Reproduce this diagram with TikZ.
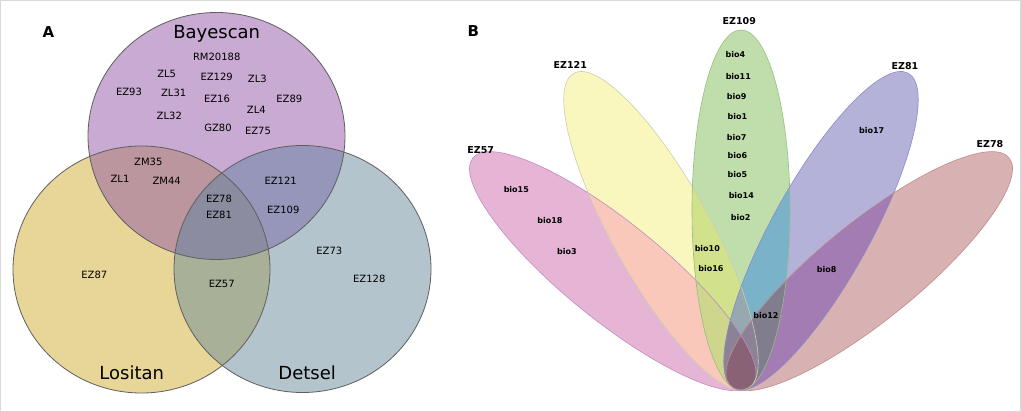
\documentclass[tikz,border=0pt]{standalone}
\usepackage{fontspec}
\setmainfont{DejaVu Sans}
% Panel A colours
\definecolor{aB}{RGB}{200,170,210}
\definecolor{aL}{RGB}{232,214,152}
\definecolor{aD}{RGB}{180,196,204}
\definecolor{aBL}{RGB}{188,150,158}
\definecolor{aBD}{RGB}{150,150,186}
\definecolor{aLD}{RGB}{168,176,152}
\definecolor{aBLD}{RGB}{140,140,160}
\definecolor{aEdge}{RGB}{95,95,95}
% Panel B colours
\definecolor{b1}{RGB}{230,180,212}
\definecolor{b2}{RGB}{249,247,190}
\definecolor{b3}{RGB}{192,222,172}
\definecolor{b4}{RGB}{180,178,216}
\definecolor{b5}{RGB}{216,178,178}
\definecolor{b12}{RGB}{249,200,186}
\definecolor{b23}{RGB}{210,226,140}
\definecolor{b34}{RGB}{122,178,202}
\definecolor{b45}{RGB}{162,124,178}
\definecolor{b13}{RGB}{190,180,170}
\definecolor{b14}{RGB}{175,150,200}
\definecolor{b24}{RGB}{165,188,190}
\definecolor{b25}{RGB}{215,180,160}
\definecolor{b35}{RGB}{150,150,150}
\definecolor{b123}{RGB}{205,214,140}
\definecolor{b345}{RGB}{128,126,142}
\definecolor{b234}{RGB}{150,168,176}
\definecolor{bTri}{RGB}{150,145,165}
\definecolor{bQuad}{RGB}{140,130,150}
\definecolor{bBulb}{RGB}{138,98,118}
\definecolor{e1}{RGB}{190,140,195}
\definecolor{e2}{RGB}{205,205,175}
\definecolor{e3}{RGB}{150,190,130}
\definecolor{e4}{RGB}{140,140,195}
\definecolor{e5}{RGB}{190,140,140}
\newcommand\PetClip[1]{\clip[p#1] (165,0) ellipse (180pt and 49pt);}
\newcommand\PetFill[2]{\fill[p#1,fill=#2] (165,0) ellipse (180pt and 49pt);}
\newcommand\PairFill[3]{\begin{scope}\PetClip{#1}\PetFill{#2}{#3}\end{scope}}
\newcommand\TriFill[4]{\begin{scope}\PetClip{#1}\PetClip{#2}\PetFill{#3}{#4}\end{scope}}
\newcommand\QuadFill[5]{\begin{scope}\PetClip{#1}\PetClip{#2}\PetClip{#3}\PetFill{#4}{#5}\end{scope}}
\begin{document}
\begin{tikzpicture}[x=1pt,y=-1pt,
  lbl/.style={font=\fontsize{10}{12}\selectfont, inner sep=0pt},
  settitle/.style={font=\fontsize{18}{20}\selectfont, inner sep=0pt, anchor=base},
  panel/.style={font=\fontsize{15}{17}\selectfont\bfseries, inner sep=0pt, anchor=base},
  blbl/.style={font=\fontsize{8}{10}\selectfont\bfseries, inner sep=0pt},
  setname/.style={font=\fontsize{9.5}{11}\selectfont\bfseries, inner sep=0pt},
  aout/.style={draw=aEdge, line width=0.8pt},
  p1/.style={shift={(741,375)},rotate=141},
  p2/.style={shift={(741,375)},rotate=119},
  p3/.style={shift={(741,375)},rotate=90},
  p4/.style={shift={(741,375)},rotate=61},
  p5/.style={shift={(741,375)},rotate=39},
]
\useasboundingbox (0,0) rectangle (1021,412);
\fill[white] (0,0) rectangle (1021,412);
\draw[black!15, line width=1pt] (0.5,0.5) rectangle (1020.5,411.5);

% ---------------- Panel A ----------------
\fill[aL] (141.5,269.5) ellipse (128.5pt and 123.5pt);
\fill[aD] (302.5,269) ellipse (128.5pt and 123.5pt);
\fill[aB] (216.5,136) ellipse (128.5pt and 123.5pt);
\begin{scope}
  \clip (216.5,136) ellipse (128.5pt and 123.5pt);
  \fill[aBL] (141.5,269.5) ellipse (128.5pt and 123.5pt);
  \fill[aBD] (302.5,269) ellipse (128.5pt and 123.5pt);
\end{scope}
\begin{scope}
  \clip (141.5,269.5) ellipse (128.5pt and 123.5pt);
  \fill[aLD] (302.5,269) ellipse (128.5pt and 123.5pt);
\end{scope}
\begin{scope}
  \clip (216.5,136) ellipse (128.5pt and 123.5pt);
  \clip (141.5,269.5) ellipse (128.5pt and 123.5pt);
  \fill[aBLD] (302.5,269) ellipse (128.5pt and 123.5pt);
\end{scope}
\draw[aout] (141.5,269.5) ellipse (128.5pt and 123.5pt);
\draw[aout] (302.5,269) ellipse (128.5pt and 123.5pt);
\draw[aout] (216.5,136) ellipse (128.5pt and 123.5pt);

\node[panel] (labA) at (48.5,37.3) {A};
\node[settitle] (tBay) at (216.7,39) {Bayescan};
\node[settitle] (tLos) at (131.7,379) {Lositan};
\node[settitle] (tDet) at (307.2,379) {Detsel};

\node[lbl] (aRM20188) at (216.7,56.7) {RM20188};
\node[lbl] (aZL5) at (166.7,74) {ZL5};
\node[lbl] (aEZ129) at (216.7,76.7) {EZ129};
\node[lbl] (aZL3) at (257.3,79.3) {ZL3};
\node[lbl] (aEZ93) at (129,92.3) {EZ93};
\node[lbl] (aZL31) at (173.7,93.3) {ZL31};
\node[lbl] (aEZ16) at (217,98.7) {EZ16};
\node[lbl] (aEZ89) at (289.3,99) {EZ89};
\node[lbl] (aZL4) at (256.3,110) {ZL4};
\node[lbl] (aZL32) at (169.3,116.3) {ZL32};
\node[lbl] (aGZ80) at (218,127.7) {GZ80};
\node[lbl] (aEZ75) at (258,130.7) {EZ75};
\node[lbl] (aZM35) at (148.3,162.3) {ZM35};
\node[lbl] (aZL1) at (120,179) {ZL1};
\node[lbl] (aZM44) at (166.7,180.7) {ZM44};
\node[lbl] (aEZ78) at (219,198.7) {EZ78};
\node[lbl] (aEZ81) at (219,214.7) {EZ81};
\node[lbl] (aEZ121) at (280.7,181) {EZ121};
\node[lbl] (aEZ109) at (283.3,209.7) {EZ109};
\node[lbl] (aEZ73) at (329.3,250.7) {EZ73};
\node[lbl] (aEZ128) at (369.3,279.3) {EZ128};
\node[lbl] (aEZ87) at (94.3,274.7) {EZ87};
\node[lbl] (aEZ57) at (221.7,284.3) {EZ57};

% ---------------- Panel B ----------------
\PetFill{1}{b1}
\PetFill{2}{b2}
\PetFill{3}{b3}
\PetFill{4}{b4}
\PetFill{5}{b5}
% pairs
\PairFill{1}{3}{b13}
\PairFill{1}{4}{b14}
\PairFill{2}{4}{b24}
\PairFill{2}{5}{b25}
\PairFill{3}{5}{b35}
\PairFill{1}{2}{b12}
\PairFill{2}{3}{b23}
\PairFill{3}{4}{b34}
\PairFill{4}{5}{b45}
% triples
\TriFill{1}{2}{4}{bTri}
\TriFill{1}{2}{5}{bTri}
\TriFill{1}{3}{4}{bTri}
\TriFill{1}{3}{5}{bTri}
\TriFill{1}{4}{5}{bTri}
\TriFill{2}{3}{5}{bTri}
\TriFill{2}{4}{5}{bTri}
\TriFill{1}{2}{3}{b123}
\TriFill{2}{3}{4}{b234}
\TriFill{3}{4}{5}{b345}
% quads
\QuadFill{1}{2}{3}{4}{bQuad}
\QuadFill{2}{3}{4}{5}{bQuad}
% bulb
\PairFill{1}{5}{bBulb}
% outlines
\draw[p1, draw=e1, line width=0.6pt] (165,0) ellipse (180pt and 49pt);
\draw[p2, draw=e2, line width=0.6pt] (165,0) ellipse (180pt and 49pt);
\draw[p3, draw=e3, line width=0.6pt] (165,0) ellipse (180pt and 49pt);
\draw[p4, draw=e4, line width=0.6pt] (165,0) ellipse (180pt and 49pt);
\draw[p5, draw=e5, line width=0.6pt] (165,0) ellipse (180pt and 49pt);

\node[panel] (labB) at (473.3,36.7) {B};
\node[setname] (sEZ109) at (739.3,20.7) {EZ109};
\node[setname] (sEZ121) at (570.3,65) {EZ121};
\node[setname] (sEZ81) at (905,65.7) {EZ81};
\node[setname] (sEZ57) at (480.7,150) {EZ57};
\node[setname] (sEZ78) at (990,144.3) {EZ78};

\node[blbl] (bio4) at (735.3,55) {bio4};
\node[blbl] (bio11) at (738.3,76.7) {bio11};
\node[blbl] (bio9) at (736.7,96.7) {bio9};
\node[blbl] (bio1) at (737.3,116.7) {bio1};
\node[blbl] (bio7) at (736.7,137.3) {bio7};
\node[blbl] (bio6) at (737.3,156) {bio6};
\node[blbl] (bio5) at (737.3,174.3) {bio5};
\node[blbl] (bio14) at (741.3,196) {bio14};
\node[blbl] (bio2) at (740.7,217.3) {bio2};
\node[blbl] (bio10) at (707.3,248.7) {bio10};
\node[blbl] (bio16) at (711,268.3) {bio16};
\node[blbl] (bio15) at (516.3,189.3) {bio15};
\node[blbl] (bio18) at (550,221) {bio18};
\node[blbl] (bio3) at (567,251.3) {bio3};
\node[blbl] (bio17) at (871.7,131) {bio17};
\node[blbl] (bio8) at (826.7,269.3) {bio8};
\node[blbl] (bio12) at (766,316) {bio12};
\end{tikzpicture}
\end{document}
